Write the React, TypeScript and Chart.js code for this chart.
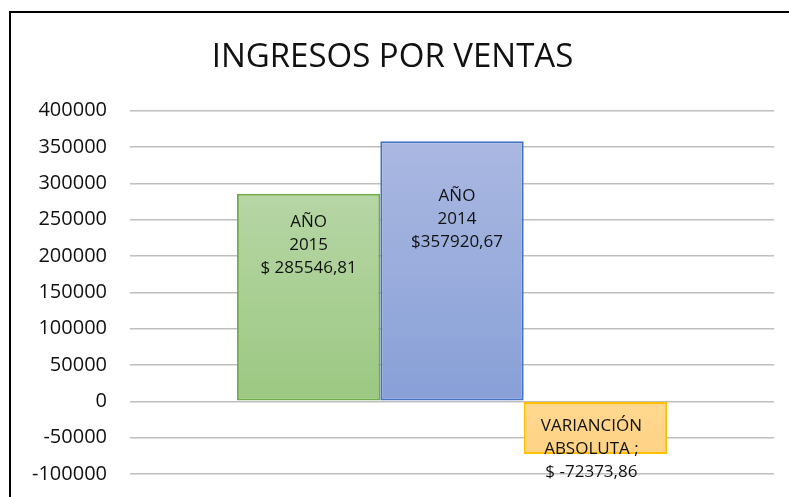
import React, { useEffect, useRef } from "react";
import { Chart, registerables } from "chart.js";

Chart.register(...registerables);

const TITLE = "INGRESOS POR VENTAS";
const CATEGORIES = [""];
const SERIES_NAMES = ["AÑO 2015", "AÑO 2014", "VARIACIÓN ABSOLUTA"];
const VALUES_2015 = [285546.81];
const VALUES_2014 = [357920.67];
const VALUES_VAR = [-72373.86];
const LABEL_2015 = ["AÑO", "2015", "$ 285546,81"];
const LABEL_2014 = ["AÑO", "2014", "$357920,67"];
const LABEL_VAR = ["VARIANCIÓN", "ABSOLUTA ;", "$ -72373,86"];
const Y_MIN = -100000;
const Y_MAX = 400000;
const Y_STEP = 50000;

const FONT = "'Open Sans', 'Liberation Sans', sans-serif";

const grad = (top: string, bottom: string) => (c: any) => {
  const chart = c.chart;
  const y = chart.scales && chart.scales.y;
  if (!chart.chartArea || !y || c.type !== "data") return bottom;
  const v = c.raw as number;
  const p1 = y.getPixelForValue(Math.max(v, 0));
  const p2 = y.getPixelForValue(Math.min(v, 0));
  if (!isFinite(p1) || !isFinite(p2) || p1 === p2) return bottom;
  const g = chart.ctx.createLinearGradient(0, p1, 0, p2);
  g.addColorStop(0, top);
  g.addColorStop(1, bottom);
  return g;
};

const labelPlugin = {
  id: "barLabels",
  afterDatasetsDraw(chart: any, _args: any, opts: any) {
    const ctx = chart.ctx;
    opts.lines.forEach((lines: string[], di: number) => {
      const el = chart.getDatasetMeta(di).data[0];
      if (!el) return;
      const top = Math.min(el.y, el.base);
      ctx.save();
      ctx.font = `${opts.size}px ${FONT}`;
      ctx.fillStyle = opts.color;
      ctx.textAlign = "center";
      ctx.textBaseline = "middle";
      lines.forEach((t: string, i: number) => {
        ctx.fillText(t, el.x + opts.dx[di], top + opts.dy[di] + i * opts.lineHeight);
      });
      ctx.restore();
    });
  },
};

export default function App() {
  const ref = useRef<HTMLCanvasElement | null>(null);

  useEffect(() => {
    if (!ref.current) return;
    const chart = new Chart(ref.current, {
      type: "bar",
      data: {
        labels: CATEGORIES,
        datasets: [
          {
            label: SERIES_NAMES[0],
            data: VALUES_2015,
            backgroundColor: grad("#b6d6a5", "#9cc882"),
            borderColor: "#70ad47",
            borderWidth: 2,
            borderSkipped: false,
          },
          {
            label: SERIES_NAMES[1],
            data: VALUES_2014,
            backgroundColor: grad("#aab8e1", "#88a0d7"),
            borderColor: "#4472c4",
            borderWidth: 2,
            borderSkipped: false,
          },
          {
            label: SERIES_NAMES[2],
            data: VALUES_VAR,
            backgroundColor: grad("#ffd88f", "#ffd386"),
            borderColor: "#ffc000",
            borderWidth: 2,
            borderSkipped: false,
          },
        ],
      },
      options: {
        responsive: false,
        animation: false,
        layout: { padding: { left: 11, right: 15, top: 0, bottom: 23 } },
        datasets: {
          bar: { categoryPercentage: 0.668, barPercentage: 1 },
        },
        scales: {
          x: { display: false },
          y: {
            min: Y_MIN,
            max: Y_MAX,
            border: { display: false },
            grid: { color: "#bfbfbf", lineWidth: 1.5, drawTicks: false },
            ticks: {
              stepSize: Y_STEP,
              padding: 23,
              color: "#111111",
              font: { family: FONT, size: 20 },
              callback: (v: any) => String(v),
            },
            afterFit: (scale: any) => {
              scale.width = 119;
              scale.paddingTop = 12;
              scale.paddingBottom = 12;
            },
          },
        },
        plugins: {
          legend: { display: false },
          tooltip: { enabled: false },
          title: {
            display: true,
            text: TITLE,
            color: "#111111",
            font: { family: FONT, size: 33, weight: "normal" },
            padding: { top: 38, bottom: 33 },
          },
          barLabels: {
            lines: [LABEL_2015, LABEL_2014, LABEL_VAR],
            dx: [0, 5, -4],
            dy: [28, 55, 24],
            lineHeight: 23,
            size: 17,
            color: "#111111",
          },
        } as any,
      },
      plugins: [labelPlugin],
    });
    return () => chart.destroy();
  }, []);

  return (
    <div
      style={{
        position: "fixed",
        left: 0,
        top: 0,
        width: 789,
        height: 497,
        overflow: "hidden",
        background: "#fff",
      }}
    >
      <div
        style={{
          position: "absolute",
          left: 9,
          top: 11,
          width: 800,
          height: 500,
          borderTop: "2px solid #000",
          borderLeft: "2px solid #000",
        }}
      />
      <canvas
        ref={ref}
        width={789}
        height={497}
        style={{ position: "absolute", left: 0, top: 0 }}
      />
    </div>
  );
}
